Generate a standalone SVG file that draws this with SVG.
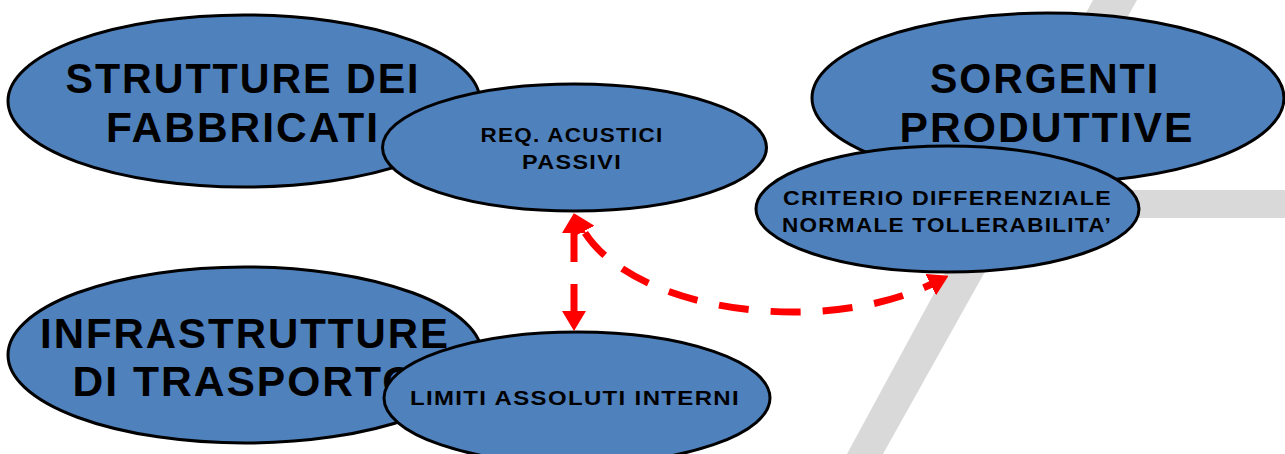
<svg xmlns="http://www.w3.org/2000/svg" width="1285" height="454" viewBox="0 0 1285 454">
<style>
.node{fill:#4F81BD;stroke:#000;stroke-width:3}
.big{font-family:"Liberation Sans",Arial,sans-serif;font-weight:bold;font-size:42px;letter-spacing:2px;fill:#000;text-anchor:middle}
.small{font-family:"Liberation Sans",Arial,sans-serif;font-weight:bold;font-size:21px;letter-spacing:1.2px;fill:#000;text-anchor:middle}
.bg{fill:#D9D9D9}
.conn{fill:none;stroke:#FF0000;stroke-width:7}
</style>
<defs>
<marker id="head" viewBox="0 0 20 24" markerWidth="20" markerHeight="24" refX="6" refY="12" orient="auto-start-reverse" markerUnits="userSpaceOnUse">
<path d="M0,0 L20,12 L0,24 z" fill="#FF0000"/>
</marker>
</defs>
<g id="background">
<polygon class="bg" points="1093,0 1137,0 883,454 847,454"/>
<rect class="bg" x="990" y="190" width="295" height="28"/>
</g>
<g id="strutture">
<ellipse class="node" cx="244" cy="101" rx="236" ry="86"/>
<text class="big" x="243" y="93" textLength="355" lengthAdjust="spacingAndGlyphs">STRUTTURE DEI</text>
<text class="big" x="243" y="142" textLength="274" lengthAdjust="spacingAndGlyphs">FABBRICATI</text>
</g>
<g id="req">
<ellipse class="node" cx="574.5" cy="147.5" rx="192" ry="63.5"/>
<text class="small" x="572" y="142" textLength="183" lengthAdjust="spacingAndGlyphs">REQ. ACUSTICI</text>
<text class="small" x="572" y="169" textLength="100" lengthAdjust="spacingAndGlyphs">PASSIVI</text>
</g>
<g id="sorgenti">
<ellipse class="node" cx="1048" cy="98" rx="236" ry="85"/>
<text class="big" x="1045" y="93" textLength="230" lengthAdjust="spacingAndGlyphs">SORGENTI</text>
<text class="big" x="1047" y="142" textLength="295" lengthAdjust="spacingAndGlyphs">PRODUTTIVE</text>
</g>
<g id="criterio">
<ellipse class="node" cx="947.5" cy="209" rx="191.5" ry="63"/>
<text class="small" x="947.5" y="205" textLength="329" lengthAdjust="spacingAndGlyphs">CRITERIO DIFFERENZIALE</text>
<text class="small" x="947" y="232" textLength="330" lengthAdjust="spacingAndGlyphs">NORMALE TOLLERABILITA’</text>
</g>
<g id="infrastrutture">
<ellipse class="node" cx="245" cy="355" rx="237" ry="88"/>
<text class="big" x="245" y="348" textLength="410" lengthAdjust="spacingAndGlyphs">INFRASTRUTTURE</text>
<text class="big" x="245" y="396" textLength="345" lengthAdjust="spacingAndGlyphs">DI TRASPORTO</text>
</g>
<g id="limiti">
<ellipse class="node" cx="577" cy="398" rx="193" ry="66"/>
<text class="small" x="575" y="405" textLength="330" lengthAdjust="spacingAndGlyphs">LIMITI ASSOLUTI INTERNI</text>
</g>
<g id="connectors">
<path class="conn" d="M574,227 L574,317" stroke-dasharray="35 22 60" marker-start="url(#head)" marker-end="url(#head)"/>
<path class="conn" d="M581,226 C625,310 820,340 936,282" stroke-dasharray="30 22" stroke-dashoffset="-8" marker-start="url(#head)" marker-end="url(#head)"/>
</g>
</svg>
